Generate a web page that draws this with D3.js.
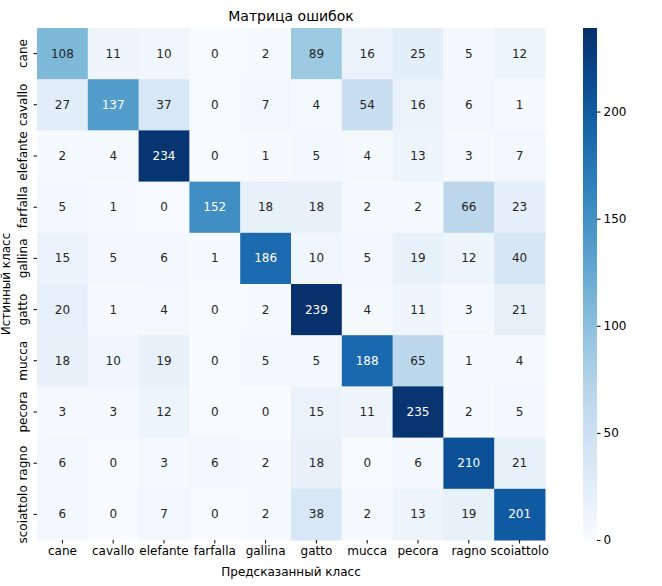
<!DOCTYPE html>
<html><head><meta charset="utf-8">
<script src="https://cdn.jsdelivr.net/npm/d3@7"></script>
<style>body{margin:0;background:#fff;font-family:"DejaVu Sans",sans-serif}</style>
</head><body>
<script>
// class names, same order for rows and columns
const classes = ["cane","cavallo","elefante","farfalla","gallina","gatto","mucca","pecora","ragno","scoiattolo"]
const matrix = [
  [108,11,10,0,2,89,16,25,5,12],
  [27,137,37,0,7,4,54,16,6,1],
  [2,4,234,0,1,5,4,13,3,7],
  [5,1,0,152,18,18,2,2,66,23],
  [15,5,6,1,186,10,5,19,12,40],
  [20,1,4,0,2,239,4,11,3,21],
  [18,10,19,0,5,5,188,65,1,4],
  [3,3,12,0,0,15,11,235,2,5],
  [6,0,3,6,2,18,0,6,210,21],
  [6,0,7,0,2,38,2,13,19,201]
]
const cbTicks = [0,50,100,150,200]

const W = 662, H = 586
const mLeft = 37, mTop = 28, mRight = 545, mBottom = 540
const vmax = d3.max(matrix.flat())

const svg = d3.select("body").append("svg").attr("width", W).attr("height", H)

const x = d3.scaleBand().domain(classes).range([mLeft, mRight])
const y = d3.scaleBand().domain(classes).range([mTop, mBottom])
const color = d3.scaleSequential(d3.interpolateBlues).domain([0, vmax])

const cells = []
matrix.forEach((row, i) => row.forEach((v, j) => cells.push({r: classes[i], c: classes[j], v: v})))

svg.selectAll("rect.cell").data(cells).enter().append("rect")
  .attr("x", d => x(d.c)).attr("y", d => y(d.r))
  .attr("width", x.bandwidth() + 0.5).attr("height", y.bandwidth() + 0.5)
  .attr("fill", d => color(d.v))

svg.selectAll("text.val").data(cells).enter().append("text")
  .attr("x", d => x(d.c) + x.bandwidth() / 2)
  .attr("y", d => y(d.r) + y.bandwidth() / 2)
  .attr("text-anchor", "middle").attr("dominant-baseline", "central")
  .attr("font-size", 12)
  .attr("fill", d => d.v > 125 ? "#fff" : "#262626")
  .text(d => d.v)

// axes
const xa = svg.append("g").attr("transform", `translate(0,${mBottom})`)
  .call(d3.axisBottom(x).tickSize(3.5))
const ya = svg.append("g").attr("transform", `translate(${mLeft},0)`)
  .call(d3.axisLeft(y).tickSize(3.5))
;[xa, ya].forEach(a => { a.select(".domain").remove(); a.selectAll("text").attr("font-size", 12).attr("fill", "#000").attr("font-family", "DejaVu Sans") })
ya.selectAll("text").attr("text-anchor", "middle").attr("dy", 0).attr("x", 0)
  .attr("transform", "translate(-10,0) rotate(-90)")

svg.append("text").attr("x", (mLeft + mRight) / 2).attr("y", 21).attr("text-anchor", "middle")
  .attr("font-size", 14).text("Матрица ошибок")
svg.append("text").attr("x", (mLeft + mRight) / 2).attr("y", 576).attr("text-anchor", "middle")
  .attr("font-size", 12).text("Предсказанный класс")
svg.append("text").attr("transform", `translate(10,${(mTop + mBottom) / 2}) rotate(-90)`)
  .attr("text-anchor", "middle").attr("font-size", 12).text("Истинный класс")

// colorbar
const cbx = 583, cbw = 14
const cy = d3.scaleLinear().domain([0, vmax]).range([mBottom, mTop])
const grad = svg.append("defs").append("linearGradient").attr("id", "cb")
  .attr("x1", 0).attr("x2", 0).attr("y1", 1).attr("y2", 0)
d3.range(0, 1.01, 0.1).forEach(t => grad.append("stop").attr("offset", t).attr("stop-color", d3.interpolateBlues(t)))
svg.append("rect").attr("x", cbx).attr("y", mTop).attr("width", cbw).attr("height", mBottom - mTop).attr("fill", "url(#cb)")
const ca = svg.append("g").attr("transform", `translate(${cbx + cbw},0)`)
  .call(d3.axisRight(cy).tickValues(cbTicks).tickSize(3.5))
ca.select(".domain").remove()
ca.selectAll("text").attr("font-size", 12).attr("fill", "#000").attr("font-family", "DejaVu Sans")
</script>
</body></html>
